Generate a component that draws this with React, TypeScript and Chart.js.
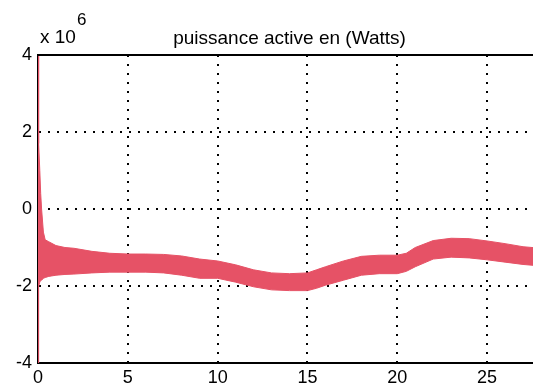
import React, { useEffect, useRef } from "react";
import { Chart, registerables } from "chart.js";

Chart.register(...registerables);

// time (s)
const TIME = [0, 0.02, 0.05, 0.1, 0.15, 0.2, 0.3, 0.4, 0.6, 1, 1.5, 2, 3, 4, 5, 6, 7, 8, 9, 10, 11, 12, 13, 14, 15, 15.5, 16, 17, 18, 19, 20, 20.5, 21, 22, 23, 24, 25, 26, 27, 28];
// upper envelope of the oscillating power (x 10^6 W)
const UPPER = [4, 4, 1.7, 1.0, 0.4, 0.0, -0.6, -0.8, -0.85, -0.95, -1.0, -1.02, -1.1, -1.15, -1.17, -1.17, -1.18, -1.22, -1.3, -1.35, -1.45, -1.58, -1.66, -1.68, -1.66, -1.58, -1.5, -1.35, -1.23, -1.2, -1.2, -1.15, -1.0, -0.82, -0.76, -0.77, -0.83, -0.9, -0.98, -1.02];
// lower envelope (x 10^6 W)
const LOWER = [-4, -4, -2.0, -1.9, -1.85, -1.85, -1.8, -1.78, -1.75, -1.72, -1.7, -1.69, -1.66, -1.64, -1.64, -1.64, -1.66, -1.72, -1.8, -1.8, -1.9, -2.02, -2.1, -2.12, -2.12, -2.06, -1.98, -1.85, -1.72, -1.68, -1.68, -1.62, -1.5, -1.3, -1.25, -1.27, -1.32, -1.38, -1.44, -1.48];

const X_TICKS = [0, 5, 10, 15, 20, 25];
const Y_TICKS = [-4, -2, 0, 2, 4];
const TITLE = "puissance active en (Watts)";
const EXP_BASE = "x 10";
const EXP_POW = "6";

const RED = "rgb(230,82,102)";
const FONT = "'Liberation Sans', Arial, sans-serif";

const decorPlugin = {
  id: "decor",
  afterDraw(chart: any) {
    const { ctx, chartArea } = chart;
    ctx.save();
    ctx.strokeStyle = "#000";
    ctx.lineWidth = 2;
    ctx.beginPath();
    ctx.moveTo(chartArea.left, chartArea.top);
    ctx.lineTo(chartArea.right, chartArea.top);
    ctx.stroke();
    ctx.fillStyle = "#000";
    ctx.textBaseline = "alphabetic";
    ctx.textAlign = "center";
    ctx.font = `19px ${FONT}`;
    ctx.fillText(TITLE, (chartArea.left + chartArea.right) / 2, chartArea.top - 11);
    ctx.textAlign = "left";
    ctx.font = `19px ${FONT}`;
    ctx.fillText(EXP_BASE, chartArea.left + 2, chartArea.top - 12);
    ctx.font = `17px ${FONT}`;
    ctx.fillText(EXP_POW, chartArea.left + 39, chartArea.top - 30);
    ctx.restore();
  },
};

export default function App() {
  const ref = useRef<HTMLCanvasElement | null>(null);
  useEffect(() => {
    if (!ref.current) return;
    const toPts = (arr: number[]) => TIME.map((t, i) => ({ x: t, y: arr[i] }));
    const chart = new Chart(ref.current, {
      type: "line",
      data: {
        datasets: [
          {
            data: toPts(UPPER),
            borderColor: RED,
            backgroundColor: RED,
            borderWidth: 1,
            pointRadius: 0,
            fill: "+1",
          },
          {
            data: toPts(LOWER),
            borderColor: RED,
            backgroundColor: RED,
            borderWidth: 1,
            pointRadius: 0,
            fill: false,
          },
        ],
      },
      options: {
        animation: false,
        responsive: false,
        layout: { padding: { top: 55, left: 0, right: 0, bottom: 0 } },
        plugins: { legend: { display: false }, tooltip: { enabled: false } },
        scales: {
          x: {
            type: "linear",
            min: 0,
            max: 28,
            afterBuildTicks: (s: any) => {
              s.ticks = X_TICKS.map((v) => ({ value: v }));
            },
            afterFit: (s: any) => {
              s.height = 29;
            },
            ticks: { color: "#000", font: { size: 18, family: FONT }, padding: 4, maxRotation: 0 },
            grid: { color: "#000", lineWidth: 2, drawTicks: false },
            border: { display: true, color: "#000", width: 2, dash: [2, 7] },
          },
          y: {
            type: "linear",
            min: -4,
            max: 4,
            afterBuildTicks: (s: any) => {
              s.ticks = Y_TICKS.map((v) => ({ value: v }));
            },
            afterFit: (s: any) => {
              s.width = 38;
            },
            ticks: { color: "#000", font: { size: 18, family: FONT }, padding: 6 },
            grid: { color: "#000", lineWidth: 2, drawTicks: false },
            border: { display: true, color: "#000", width: 2, dash: [2, 7] },
          },
        },
      },
      plugins: [decorPlugin],
    });
    return () => chart.destroy();
  }, []);
  return (
    <div style={{ position: "absolute", left: 0, top: 0, width: 533, height: 392, overflow: "hidden", background: "#fff" }}>
      <canvas ref={ref} width={541} height={392} style={{ width: 541, height: 392, display: "block" }} />
    </div>
  );
}
